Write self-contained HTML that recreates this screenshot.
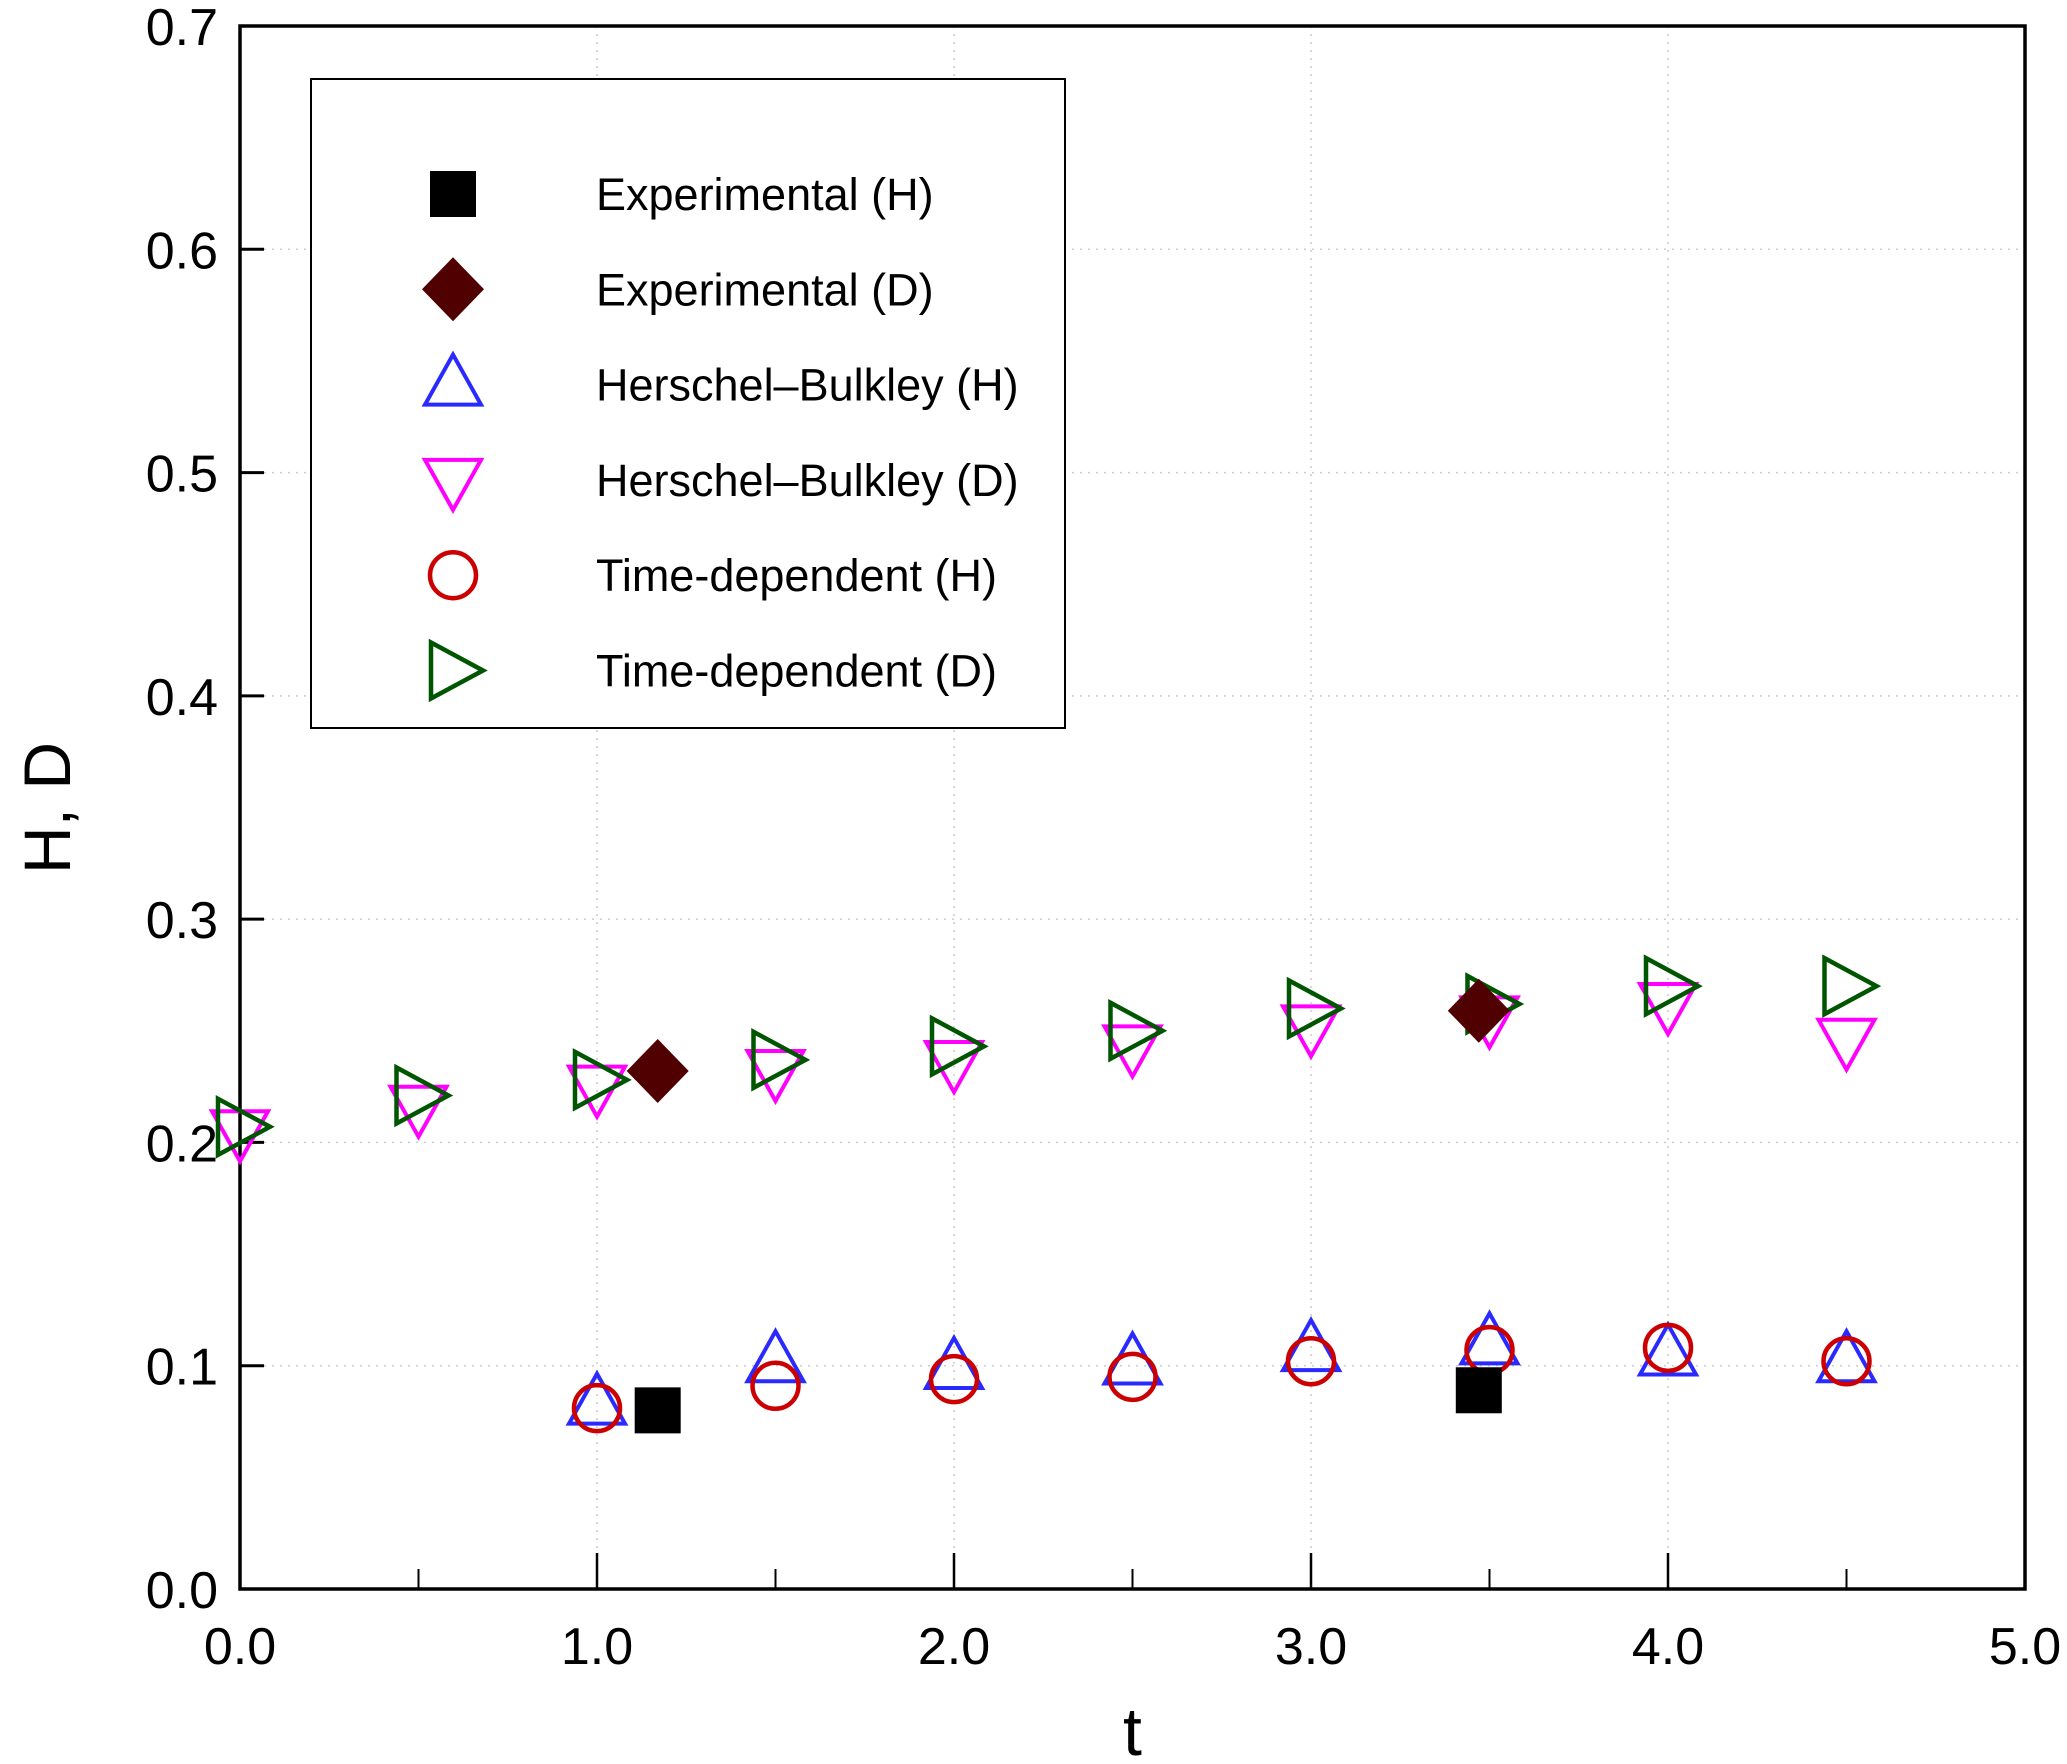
<!DOCTYPE html>
<html><head><meta charset="utf-8"><style>
html,body{margin:0;padding:0;background:#fff;}
svg{display:block;font-family:"Liberation Sans",Arial,sans-serif;}
</style></head><body>
<svg id="chart" width="2067" height="1764" viewBox="0 0 2067 1764" xmlns="http://www.w3.org/2000/svg">
<g id="grid"></g>
<g id="axes"></g>
<g id="marks"></g>
<g id="legend"></g>
</svg>
<script>
const xTicks = [0,1,2,3,4,5];
const xTickLabels = ["0.0","1.0","2.0","3.0","4.0","5.0"];
const xMinorTicks = [0.5,1.5,2.5,3.5,4.5];
const yTicks = [0,0.1,0.2,0.3,0.4,0.5,0.6,0.7];
const yTickLabels = ["0.0","0.1","0.2","0.3","0.4","0.5","0.6","0.7"];
const expT = [1.17,3.47];
const expH = [0.080,0.089];
const expD = [0.232,0.259];
const simT = [0,0.5,1.0,1.5,2.0,2.5,3.0,3.5,4.0,4.5];
const hbH = [null,null,0.083,0.102,0.099,0.101,0.107,0.110,0.105,0.102];
const hbD = [0.205,0.216,0.225,0.232,0.236,0.243,0.252,0.256,0.262,0.246];
const tdH = [null,null,0.081,0.091,0.094,0.095,0.102,0.107,0.108,0.102];
const tdD = [0.207,0.221,0.228,0.237,0.243,0.250,0.260,0.262,0.270,0.270];

const NS="http://www.w3.org/2000/svg";
const L=240,R=2025,T=26,B=1589;
const xs=v=>L+(R-L)*v/5;
const ys=v=>B-(B-T)*v/0.7;
function mk(tag,attrs,parent){const e=document.createElementNS(NS,tag);for(const k in attrs)e.setAttribute(k,attrs[k]);parent.appendChild(e);return e;}
const grid=document.getElementById('grid'),axes=document.getElementById('axes'),marks=document.getElementById('marks'),legend=document.getElementById('legend');

yTicks.forEach((v,i)=>{
  if(i>0&&i<yTicks.length-1){const g=mk('line',{x1:L,x2:R,y1:ys(v),y2:ys(v),stroke:'#ccc','stroke-width':1.5,'stroke-dasharray':'2 6'},grid);
  }
  const t=mk('line',{x1:L,x2:L+24,y1:ys(v),y2:ys(v),stroke:'#000','stroke-width':3},axes);
  
  const lb=mk('text',{x:L-22,y:ys(v)+19,'text-anchor':'end','font-size':52},axes);lb.textContent=yTickLabels[i];
  
});
xTicks.forEach((v,i)=>{
  if(i>0&&i<xTicks.length-1){const g=mk('line',{x1:xs(v),x2:xs(v),y1:T,y2:B,stroke:'#ccc','stroke-width':1.5,'stroke-dasharray':'2 6'},grid);
  }
  const t=mk('line',{x1:xs(v),x2:xs(v),y1:B,y2:B-36,stroke:'#000','stroke-width':2.5},axes);
  
  const lb=mk('text',{x:xs(v),y:B+75,'text-anchor':'middle','font-size':52},axes);lb.textContent=xTickLabels[i];
  
});
xMinorTicks.forEach(v=>{
  const t=mk('line',{x1:xs(v),x2:xs(v),y1:B,y2:B-20,stroke:'#000','stroke-width':2},axes);
  
});
const frame=mk('rect',{x:L,y:T,width:R-L,height:B-T,fill:'none',stroke:'#000','stroke-width':3.5},axes);

const xt=mk('text',{x:(L+R)/2,y:1755,'text-anchor':'middle','font-size':68},axes);xt.textContent='t';

const yt=mk('text',{x:0,y:0,'text-anchor':'middle','font-size':66,transform:'translate(70,808) rotate(-90)'},axes);yt.textContent='H, D';


function marker(type,cx,cy,parent){
  let e;
  if(type==='square'){e=mk('rect',{x:cx-23,y:cy-23,width:46,height:46,fill:'#000'},parent);}
  else if(type==='diamond'){e=mk('polygon',{points:`${cx},${cy-32} ${cx+31},${cy} ${cx},${cy+32} ${cx-31},${cy}`,fill:'#500000'},parent);}
  else if(type==='up'){e=mk('polygon',{points:`${cx},${cy-30} ${cx+28},${cy+20} ${cx-28},${cy+20}`,fill:'none',stroke:'#2a2aff','stroke-width':4},parent);}
  else if(type==='down'){e=mk('polygon',{points:`${cx-28},${cy-20} ${cx+28},${cy-20} ${cx},${cy+30}`,fill:'none',stroke:'#ff00ff','stroke-width':4},parent);}
  else if(type==='circle'){e=mk('circle',{cx:cx,cy:cy,r:23,fill:'none',stroke:'#cc0000','stroke-width':4.5},parent);}
  else if(type==='right'){e=mk('polygon',{points:`${cx-22},${cy-28} ${cx+30},${cy} ${cx-22},${cy+28}`,fill:'none',stroke:'#005500','stroke-width':4.5},parent);}
  return e;
}
function series(tarr,varr,type,name){
  tarr.forEach((t,i)=>{if(varr[i]==null)return;
    const e=marker(type,xs(t),ys(varr[i]),marks);
    
    
  });
}
series(simT,hbD,'down','hb-d-point');
series(simT,tdD,'right','td-d-point');
series(simT,hbH,'up','hb-h-point');
series(simT,tdH,'circle','td-h-point');
series(expT,expD,'diamond','exp-d-point');
series(expT,expH,'square','exp-h-point');

const lbox=mk('rect',{x:311,y:79,width:754,height:649,fill:'#fff',stroke:'#000','stroke-width':2},legend);

const legTypes=['square','diamond','up','down','circle','right'];
const legLabels=['Experimental (H)','Experimental (D)','Herschel\u2013Bulkley (H)','Herschel\u2013Bulkley (D)','Time-dependent (H)','Time-dependent (D)'];
legLabels.forEach((s,i)=>{
  const y=194+i*95.3;
  const m=marker(legTypes[i],453,y,legend);
  
  const t=mk('text',{x:596,y:y+16,'font-size':45},legend);t.textContent=s;
  
});
</script>
</body></html>
